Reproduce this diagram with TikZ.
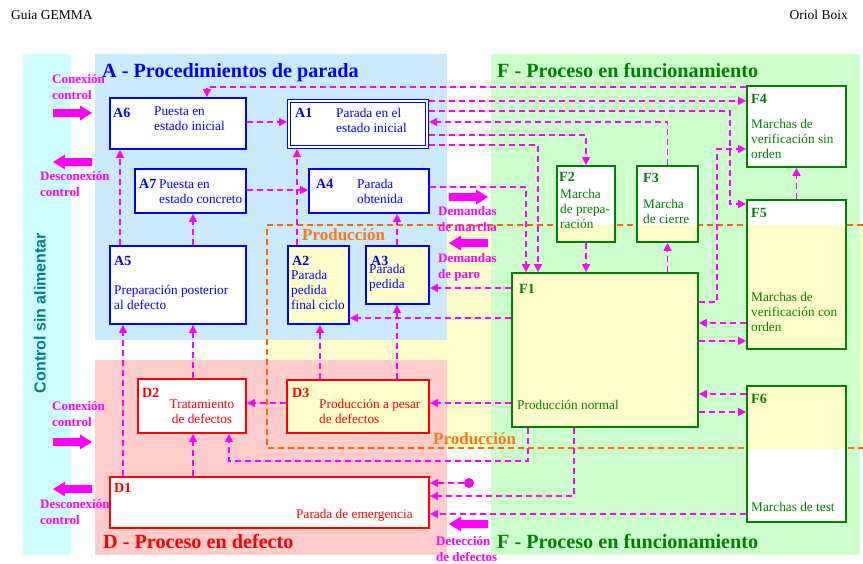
\documentclass[tikz,border=0pt]{standalone}
\usepackage{fontspec}
\setmainfont{Liberation Serif}
\setsansfont{Liberation Sans}
\usetikzlibrary{arrows.meta}
\definecolor{mag}{RGB}{255,0,255}
\definecolor{gblue}{RGB}{0,0,255}
\definecolor{ggreen}{RGB}{0,128,0}
\definecolor{gred}{RGB}{255,0,0}
\definecolor{gorange}{RGB}{255,102,0}
\definecolor{gorangetext}{RGB}{255,120,20}
\definecolor{gteal}{RGB}{0,128,128}
\definecolor{bgcyan}{RGB}{204,255,255}
\definecolor{bgblue}{RGB}{204,234,255}
\definecolor{bggreen}{RGB}{204,255,204}
\definecolor{bgred}{RGB}{255,204,204}
\definecolor{bgyellow}{RGB}{255,255,204}
\pgfdeclarelayer{regions}
\pgfdeclarelayer{fills}
\pgfsetlayers{regions,fills,main}
\tikzset{
  boxA/.style={draw=gblue, line width=1.8pt, inner sep=0pt, rectangle},
  boxD/.style={draw=gred, line width=1.8pt, inner sep=0pt, rectangle},
  boxF/.style={draw=ggreen, line width=1.8pt, inner sep=0pt, rectangle},
  conn/.style={draw=mag, line width=1.5pt, dash pattern=on 6pt off 4pt, -{Triangle[length=8pt,width=8pt]}},
  txt/.style={anchor=base west, inner sep=0pt, align=left, font=\fontsize{13.3}{15.2}\selectfont},
  lab/.style={anchor=base west, inner sep=0pt, font=\bfseries\fontsize{14}{16}\selectfont},
  mlab/.style={anchor=base west, inner sep=0pt, align=left, text=mag, font=\bfseries\fontsize{13}{15.5}\selectfont},
  ttl/.style={anchor=base west, inner sep=0pt, font=\bfseries\fontsize{20.2}{24}\selectfont},
  prodlab/.style={anchor=base west, inner sep=0pt, text=gorangetext, font=\bfseries\fontsize{17}{20}\selectfont},
  hdr/.style={inner sep=0pt, font=\fontsize{13.5}{16}\selectfont},
  blockarr/.pic={\fill[mag] (0,-4) -- (27,-4) -- (27,-7.5) -- (39,0) -- (27,7.5) -- (27,4) -- (0,4) -- cycle;},
}
\begin{document}
\begin{tikzpicture}[x=1pt,y=-1pt]
\useasboundingbox (0,0) rectangle (863,563);
% regions
\begin{pgfonlayer}{regions}
\fill[bgyellow] (267,225) rectangle (863,448);
\fill[bgcyan] (23,54) rectangle (71,555);
\fill[bgblue] (95,54) rectangle (447,340);
\fill[bgred] (95,360) rectangle (447,555);
\fill[bggreen] (491,54) rectangle (860,555);
\draw[gorange, line width=1.3pt, dash pattern=on 6pt off 4pt] (863,225) -- (267,225) -- (267,448) -- (863,448);
\end{pgfonlayer}

% header
\node[hdr, anchor=base west] (hd1) at (11,19.5) {Guia GEMMA};
\node[hdr, anchor=base east] (hd2) at (848,19.5) {Oriol Boix};

% titles
\node[ttl, text=gblue] (tA) at (102,77.5) {A - Procedimientos de parada};
\node[ttl, text=ggreen] (tF) at (497,77.5) {F - Proceso en funcionamiento};
\node[ttl, text=gred] (tD) at (103,548) {D - Proceso en defecto};
\node[ttl, text=ggreen] (tFb) at (497,548) {F - Proceso en funcionamiento};
\node[rotate=90, inner sep=0pt, text=gteal, font=\sffamily\bfseries\fontsize{16}{18}\selectfont] (csa) at (40,313) {Control sin alimentar};
\node[prodlab] (p1) at (302,240.5) {Producción};
\node[prodlab] (p2) at (433,444.5) {Producción};

% boxes
\node[boxA, minimum width=136pt, minimum height=51pt] (A6) at (178,123.5) {};
\node[boxA, line width=1.1pt, double=white, double distance=1.8pt, outer sep=2pt, minimum width=138pt, minimum height=46pt] (A1) at (358,124) {};
\node[boxA, minimum width=111pt, minimum height=44pt] (A7) at (190.5,191) {};
\node[boxA, minimum width=120pt, minimum height=44pt] (A4) at (369,191) {};
\node[boxA, minimum width=136pt, minimum height=78pt] (A5) at (178,285) {};
\node[boxA, minimum width=61pt, minimum height=78pt] (A2) at (318.5,285) {};
\node[boxA, minimum width=63pt, minimum height=58pt] (A3) at (397.5,275) {};
\node[boxD, minimum width=108pt, minimum height=54pt] (D2) at (192,406) {};
\node[boxD, minimum width=142pt, minimum height=53pt] (D3) at (358,406.5) {};
\node[boxD, minimum width=319pt, minimum height=51pt] (D1) at (269.5,502.5) {};
\node[boxF, minimum width=186pt, minimum height=154pt] (F1) at (605,350) {};
\node[boxF, minimum width=58pt, minimum height=76pt] (F2) at (586,204) {};
\node[boxF, minimum width=61pt, minimum height=76pt] (F3) at (667.5,204) {};
\node[boxF, minimum width=99pt, minimum height=81pt] (F4) at (796.5,126.5) {};
\node[boxF, minimum width=99pt, minimum height=149pt] (F5) at (796.5,274.5) {};
\node[boxF, minimum width=99pt, minimum height=136pt] (F6) at (796.5,454) {};

\begin{pgfonlayer}{fills}
\foreach \b in {A6,A1,A7,A4,A5,D2,D1,F2,F3,F4,F5,F6}
  \fill[white] (\b.south west) rectangle (\b.north east);
\begin{scope}
\clip (267,225) rectangle (863,448);
\foreach \b in {A2,A3,D3,F1,F2,F3,F5,F6}
  \fill[bgyellow] (\b.south west) rectangle (\b.north east);
\end{scope}
\end{pgfonlayer}

% box texts (base anchor of a multi-line node = last line)
\node[lab, text=gblue] (lA6) at (113,117) {A6};
\node[txt, text=gblue] (tA6) at (154,130.7) {Puesta en\\estado inicial};
\node[lab, text=gblue] (lA1) at (295,117.5) {A1};
\node[txt, text=gblue] (tA1) at (336,132.7) {Parada en el\\estado inicial};
\node[lab, text=gblue] (lA7) at (139,188) {A7};
\node[txt, text=gblue] (tA7) at (159,203.2) {Puesta en\\estado concreto};
\node[lab, text=gblue] (lA4) at (316,188) {A4};
\node[txt, text=gblue] (tA4) at (357,203.2) {Parada\\obtenida};
\node[lab, text=gblue] (lA5) at (114,265) {A5};
\node[txt, text=gblue] (tA5) at (114,309.7) {Preparación posterior\\al defecto};
\node[lab, text=gblue] (lA2) at (292,265) {A2};
\node[txt, text=gblue] (tA2) at (291,309.9) {Parada\\pedida\\final ciclo};
\node[lab, text=gblue] (lA3) at (371,265) {A3};
\node[txt, text=gblue] (tA3) at (369,288.7) {Parada\\pedida};
\node[lab, text=gred] (lD2) at (142,397.5) {D2};
\node[txt, text=gred, anchor=base, align=center] (tD2) at (202,423.7) {Tratamiento\\de defectos};
\node[lab, text=gred] (lD3) at (292,397.5) {D3};
\node[txt, text=gred] (tD3) at (319,423.7) {Producción a pesar\\de defectos};
\node[lab, text=gred] (lD1) at (114,492.5) {D1};
\node[txt, text=gred] (tD1) at (296,518.5) {Parada de emergencia};
\node[lab, text=ggreen] (lF1) at (519,293.5) {F1};
\node[txt, text=ggreen] (tF1) at (517,409.5) {Producción normal};
\node[lab, text=ggreen] (lF2) at (559,181.5) {F2};
\node[txt, text=ggreen] (tF2) at (560,228.9) {Marcha\\de prepa-\\ración};
\node[lab, text=ggreen] (lF3) at (643,182.5) {F3};
\node[txt, text=ggreen] (tF3) at (643,223.7) {Marcha\\de cierre};
\node[lab, text=ggreen] (lF4) at (751,103.5) {F4};
\node[txt, text=ggreen] (tF4) at (751,158.9) {Marchas de\\verificación sin\\orden};
\node[lab, text=ggreen] (lF5) at (751,217.5) {F5};
\node[txt, text=ggreen] (tF5) at (751,331.9) {Marchas de\\verificación con\\orden};
\node[lab, text=ggreen] (lF6) at (751,403.5) {F6};
\node[txt, text=ggreen] (tF6) at (751,511.5) {Marchas de test};

% magenta labels and block arrows
\node[mlab] (mc1) at (52,99) {Conexión\\control};
\node[mlab] (md1) at (40,196) {Desconexión\\control};
\node[mlab] (mc2) at (52,426) {Conexión\\control};
\node[mlab] (md2) at (40,524) {Desconexión\\control};
\node[mlab] (mdm) at (438,231) {Demandas\\de marcha};
\node[mlab] (mdp) at (438,278) {Demandas\\de paro};
\node[mlab] (mdd) at (436,561) {Detección\\de defectos};
\pic at (53,113) {blockarr};
\pic[rotate=180] at (92,162) {blockarr};
\pic at (53,442) {blockarr};
\pic[rotate=180] at (92,489) {blockarr};
\pic at (449,197) {blockarr};
\pic[rotate=180] at (488,243) {blockarr};
\pic[rotate=180] at (488,524) {blockarr};

\node[circle, fill=mag, minimum size=10pt, inner sep=0pt] (dot) at (469,483) {};

% connectors
\draw[conn] (A6.east |- 0,122) -- (A1.west |- 0,122);
\draw[conn] (A7.east |- 0,190) -- (A4.west |- 0,190);
\draw[conn] (A5.north -| 120,0) -- (A6.south -| 120,0);
\draw[conn] (A5.north -| 193,0) -- (A7.south -| 193,0);
\draw[conn] (A2.north -| 297,0) -- (A1.south -| 297,0);
\draw[conn] (A3.north -| 397,0) -- (A4.south -| 397,0);
\draw[conn] (D3.north -| 320,0) -- (A2.south -| 320,0);
\draw[conn] (D3.north -| 397,0) -- (A3.south -| 397,0);
\draw[conn] (D1.north -| 123,0) -- (A5.south -| 123,0);
\draw[conn] (D2.north -| 193,0) -- (A5.south -| 193,0);
\draw[conn] (D1.north -| 193,0) -- (D2.south -| 193,0);
\draw[conn] (D3.west |- 0,403) -- (D2.east |- 0,403);
\draw[conn] (F1.west |- 0,403) -- (D3.east |- 0,403);
\draw[conn] (F1.south -| 528,0) |- (229,461) -- (D2.south -| 229,0);
\draw[conn] (F1.south -| 574,0) |- (D1.east |- 0,496);
\draw[conn] (dot) -- (D1.east |- 0,483);
\draw[conn] (F6.west |- 0,514) -- (D1.east |- 0,514);
\draw[conn] (F6.west |- 0,394) -- (F1.east |- 0,394);
\draw[conn] (F1.east |- 0,412) -- (F6.west |- 0,412);
\draw[conn] (F5.west |- 0,323) -- (F1.east |- 0,323);
\draw[conn] (F1.east |- 0,341) -- (F5.west |- 0,341);
\draw[conn] (F1.east |- 0,302) -- (717,302) |- (F4.west |- 0,149);
\draw[conn] (F5.north) -- (F4.south);
\draw[conn] (F2.south) -- (F1.north -| F2.south);
\draw[conn] (F1.north -| F3.south) -- (F3.south);
\draw[conn] (F1.west |- 0,288) -- (A3.east |- 0,288);
\draw[conn] (F1.west |- 0,318) -- (A2.east |- 0,318);
\draw[conn] (A4.east |- 0,187) -| (F1.north -| 526,0);
\draw[conn] (A1.east |- 0,145) -| (F1.north -| 538,0);
\draw[conn] (A1.east |- 0,135) -| (F2.north);
\draw[conn] (F3.north) |- (A1.east |- 0,122);
\draw[conn] (A1.east |- 0,111) -- (730,111) |- (F5.west |- 0,204);
\draw[conn] (A1.east |- 0,101) -- (F4.west |- 0,101);
\draw[conn] (F4.west |- 0,87) -| (A6.north -| 207,0);
\end{tikzpicture}
\end{document}
